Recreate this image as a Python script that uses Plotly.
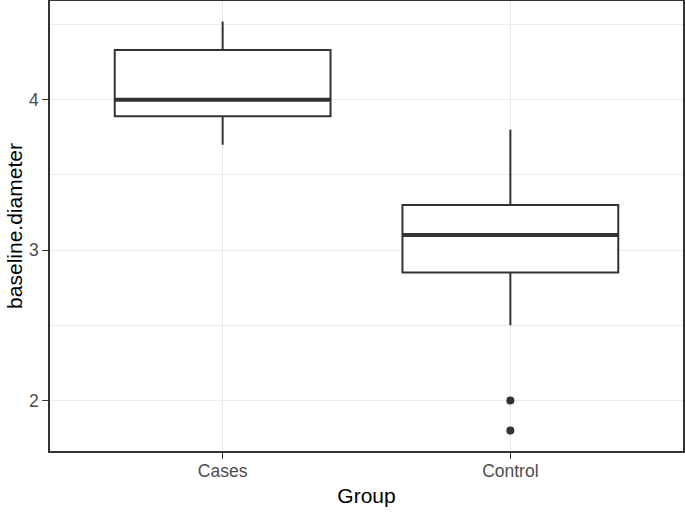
import plotly.graph_objects as go

groups = ["Cases", "Control"]
q1 = [3.89, 2.85]
median = [4.0, 3.1]
q3 = [4.33, 3.3]
lower_whisker = [3.7, 2.5]
upper_whisker = [4.52, 3.8]
outlier_group = ["Control", "Control"]
outlier_values = [2.0, 1.8]

box_width = 0.75
pos = list(range(len(groups)))
line_col = "#333333"

fig = go.Figure()
fig.add_trace(go.Box(
    x=pos, q1=q1, median=median, q3=q3,
    lowerfence=lower_whisker, upperfence=upper_whisker,
    width=box_width, whiskerwidth=0, boxpoints=False,
    fillcolor="white", line=dict(color=line_col, width=2),
    showlegend=False, hoverinfo="skip",
))

# thicker median lines (ggplot fatten)
mx, my = [], []
for p, m in zip(pos, median):
    mx += [p - box_width / 2, p + box_width / 2, None]
    my += [m, m, None]
fig.add_trace(go.Scatter(x=mx, y=my, mode="lines",
                         line=dict(color=line_col, width=4),
                         showlegend=False, hoverinfo="skip"))

fig.add_trace(go.Scatter(
    x=[groups.index(g) for g in outlier_group], y=outlier_values,
    mode="markers", marker=dict(color=line_col, size=8),
    showlegend=False, hoverinfo="skip"))

lo = min(outlier_values + lower_whisker)
hi = max(upper_whisker)
pad = (hi - lo) * 0.05

axis_common = dict(
    automargin=False,
    showline=True, mirror=True, linecolor=line_col, linewidth=1.6,
    ticks="outside", ticklen=6, tickcolor=line_col, tickwidth=1.3,
    gridcolor="#EBEBEB", gridwidth=1.3, zeroline=False,
    tickfont=dict(size=17.5, color="#4D4D4D"),
    title_font=dict(size=21, color="black"),
)

fig.update_layout(
    width=685, height=512,
    margin=dict(l=50, r=2, t=1, b=61),
    paper_bgcolor="white", plot_bgcolor="white",
    font=dict(family="Liberation Sans, Arial, sans-serif"),
    xaxis=dict(axis_common, range=[-0.6, len(groups) - 0.4],
               tickvals=pos, ticktext=groups, ticklabelstandoff=-3,
               title=dict(text="Group", standoff=9)),
    yaxis=dict(axis_common, range=[lo - pad, hi + pad],
               tickvals=[2, 3, 4], title=dict(text="baseline.diameter", standoff=1),
               minor=dict(tickvals=[2.5, 3.5, 4.5], showgrid=True,
                          gridcolor="#EBEBEB", gridwidth=0.8, ticks="")),
)

fig.write_html("out.html", config={"displayModeBar": False},
               post_script="document.body.style.margin='0';")
